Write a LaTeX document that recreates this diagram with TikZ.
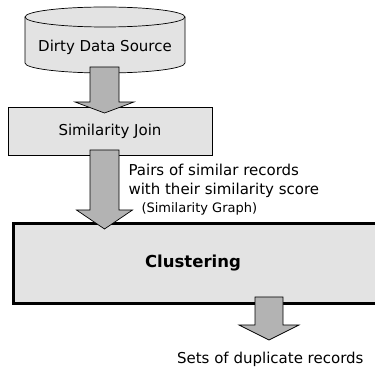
\documentclass[tikz,border=0pt]{standalone}
\usepackage{fontspec}
\setmainfont{DejaVu Sans}
\usetikzlibrary{calc}

\definecolor{boxgray}{HTML}{E3E3E3}
\definecolor{arrowgray}{HTML}{B3B3B3}

% fat arrow: shaft top, head base, tip, shaft half width, head half width
\newcommand{\fatarrow}[5]{%
  \filldraw[fill=arrowgray, draw=black, line width=0.7pt, line join=miter]
    ($(#1)+(-#4,0)$) -- ($(#2)+(-#4,0)$) -- ($(#2)+(-#5,0)$) -- (#3)
    -- ($(#2)+(#5,0)$) -- ($(#2)+(#4,0)$) -- ($(#1)+(#4,0)$) -- cycle;}

\begin{document}
\begin{tikzpicture}[x=1pt, y=1pt, font=\fontsize{15}{19}\selectfont]
				\clip (0,0) rectangle (375,-371);
				\fill[white] (0,0) rectangle (375,-371);
				
				% data source (cylinder)
				\filldraw[fill=boxgray, draw=black, line width=0.7pt]
				  (25,-17) -- (25,-63) arc[start angle=180, end angle=360, x radius=80, y radius=10]
				  -- (185,-17) arc[start angle=0, end angle=180, x radius=80, y radius=10];
				\draw[line width=0.7pt] (25,-17) arc[start angle=180, end angle=360, x radius=80, y radius=10];
				\node[anchor=base] (src) at (105,-52) {Dirty Data Source};
				
				% boxes
				\node[draw, line width=0.7pt, fill=boxgray, minimum width=204pt, minimum height=48pt,
				      anchor=north west] (join) at (8,-107) {};
				\node[anchor=base] (joinlbl) at (110,-136) {Similarity Join};
				\node[draw, line width=3pt, fill=boxgray, minimum width=370pt, minimum height=80pt,
				      anchor=north west] (clust) at (12,-222) {};
				\node[anchor=base, font=\fontsize{16.5}{20}\selectfont\bfseries] (clustlbl) at (193,-268) {Clustering};
				
				% arrows
				\coordinate (a1s) at (104.5,-67);  \coordinate (a1b) at (104.5,-102); \coordinate (a1t) at (104.5,-113);
				\coordinate (a2s) at (104.5,-150); \coordinate (a2b) at (104.5,-210); \coordinate (a2t) at (104.5,-229);
				\coordinate (a3s) at (269,-297);   \coordinate (a3b) at (269,-325);   \coordinate (a3t) at (269,-340);
				\fatarrow{a1s}{a1b}{a1t}{14.5}{29.5}
				\fatarrow{a2s}{a2b}{a2t}{14.5}{28}
				\fatarrow{a3s}{a3b}{a3t}{14}{30}
				
				% labels
				\node[anchor=base west] (pairs) at (125,-176) {Pairs of similar records};
				\node[anchor=base west] (score) at (125,-195) {with their similarity score};
				\node[anchor=base west, font=\fontsize{13}{16}\selectfont] (graph) at (138,-213) {(Similarity Graph)};
				\node[anchor=base east] (sets) at (367,-363) {Sets of duplicate records};
			\end{tikzpicture}
\end{document}
